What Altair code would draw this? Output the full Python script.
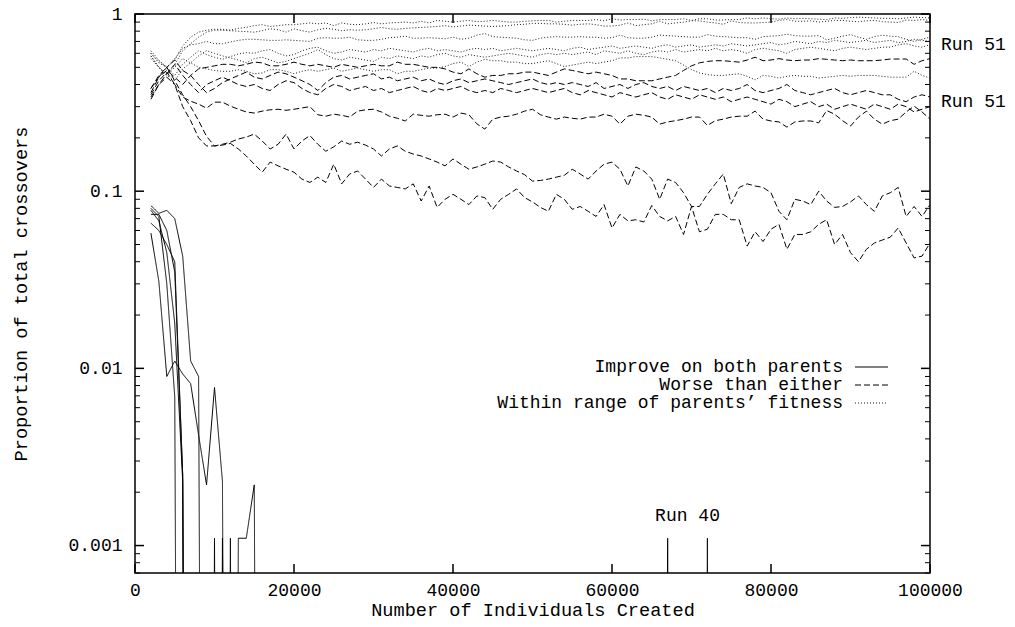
import altair as alt
import pandas as pd

# ---------------- data (sampled every 1000 individuals, 2000 .. 100000) ----------------
individuals = list(range(2000, 100001, 1000))

# "Improve on both parents" (solid)
improve_run1 = [0.083, 0.075, 0.078, 0.070, 0.043, 0.011, 0.009] + [0] * 92
improve_run2 = [0.058, 0.031, 0.009, 0.011, 0.0093, 0.0082, 0.0042, 0.0022, 0.0078, 0.0023] + [0] * 89
improve_run3 = [0.080, 0.072, 0.030, 0.0069, 0, 0, 0, 0, 0.0011] + [0] * 90
improve_run4 = [0.078, 0.068, 0.045, 0.018, 0.0023, 0, 0, 0, 0, 0.0011] + [0] * 89
improve_run5 = ([0.074, 0.074, 0.060, 0.035, 0.0025, 0, 0, 0, 0, 0, 0.0011] + [0] * 54
                + [0.0011] + [0] * 4 + [0.0011] + [0] * 28)
improve_run6 = [0.066, 0.060, 0.050, 0.040, 0.0025, 0, 0, 0, 0, 0, 0, 0.0011, 0.0011, 0.0022] + [0] * 85

# "Worse than either" (dashed)
worse_run1 = [0.35, 0.42, 0.47, 0.40, 0.30, 0.25, 0.20, 0.18, 0.18,
              0.182, 0.186, 0.173, 0.158, 0.142, 0.128, 0.146, 0.139, 0.133, 0.128,
              0.117, 0.112, 0.120, 0.112, 0.142, 0.110, 0.125, 0.130, 0.117, 0.105,
              0.117, 0.107, 0.105, 0.103, 0.110, 0.088, 0.107, 0.081, 0.090, 0.096,
              0.090, 0.084, 0.094, 0.092, 0.079, 0.090, 0.096, 0.103, 0.092, 0.087,
              0.081, 0.077, 0.096, 0.090, 0.079, 0.082, 0.077, 0.072, 0.084, 0.062,
              0.074, 0.068, 0.069, 0.067, 0.083, 0.072, 0.068, 0.072, 0.057, 0.082,
              0.059, 0.061, 0.074, 0.074, 0.069, 0.069, 0.049, 0.059, 0.052, 0.061,
              0.065, 0.047, 0.057, 0.057, 0.059, 0.065, 0.069, 0.050, 0.057, 0.045,
              0.040, 0.047, 0.051, 0.053, 0.055, 0.062, 0.051, 0.042, 0.043, 0.051]
worse_run2 = [0.38, 0.45, 0.50, 0.42, 0.35, 0.30, 0.25, 0.204, 0.180,
              0.184, 0.189, 0.197, 0.202, 0.210, 0.192, 0.173, 0.184, 0.210, 0.173,
              0.192, 0.206, 0.184, 0.168, 0.178, 0.192, 0.184, 0.189, 0.182, 0.173,
              0.158, 0.173, 0.180, 0.168, 0.162, 0.158, 0.152, 0.146, 0.139, 0.152,
              0.142, 0.133, 0.137, 0.142, 0.148, 0.146, 0.137, 0.130, 0.124, 0.114,
              0.115, 0.117, 0.120, 0.123, 0.133, 0.125, 0.117, 0.130, 0.142, 0.146,
              0.133, 0.107, 0.137, 0.130, 0.117, 0.090, 0.117, 0.112, 0.098, 0.082,
              0.082, 0.096, 0.110, 0.125, 0.085, 0.105, 0.110, 0.107, 0.105, 0.098,
              0.077, 0.069, 0.090, 0.088, 0.084, 0.100, 0.088, 0.081, 0.082, 0.087,
              0.094, 0.084, 0.077, 0.094, 0.098, 0.105, 0.072, 0.082, 0.072, 0.084]
worse_run3 = [0.33, 0.40, 0.44, 0.40, 0.34, 0.322, 0.310, 0.294, 0.318,
              0.318, 0.302, 0.290, 0.280, 0.276, 0.283, 0.288, 0.290, 0.286, 0.290,
              0.295, 0.300, 0.270, 0.265, 0.272, 0.268, 0.262, 0.283, 0.288, 0.290,
              0.280, 0.265, 0.258, 0.249, 0.272, 0.268, 0.265, 0.270, 0.272, 0.262,
              0.276, 0.270, 0.240, 0.224, 0.255, 0.262, 0.265, 0.272, 0.283, 0.290,
              0.270, 0.262, 0.255, 0.262, 0.258, 0.255, 0.262, 0.262, 0.272, 0.265,
              0.239, 0.265, 0.272, 0.268, 0.262, 0.239, 0.246, 0.250, 0.255, 0.262,
              0.262, 0.235, 0.250, 0.255, 0.262, 0.265, 0.265, 0.283, 0.255, 0.249,
              0.246, 0.230, 0.246, 0.249, 0.249, 0.243, 0.285, 0.272, 0.250, 0.233,
              0.262, 0.283, 0.255, 0.239, 0.250, 0.255, 0.280, 0.302, 0.280, 0.255]
worse_run4 = [0.34, 0.40, 0.46, 0.52, 0.45, 0.40, 0.36, 0.40, 0.42,
              0.44, 0.42, 0.40, 0.39, 0.40, 0.38, 0.37, 0.40, 0.42, 0.41,
              0.38, 0.36, 0.35, 0.38, 0.40, 0.39, 0.37, 0.38, 0.39, 0.37,
              0.38, 0.36, 0.37, 0.38, 0.39, 0.37, 0.36, 0.38, 0.37, 0.38,
              0.39, 0.37, 0.36, 0.37, 0.36, 0.38, 0.37, 0.36, 0.37, 0.38,
              0.37, 0.36, 0.37, 0.38, 0.36, 0.35, 0.37, 0.36, 0.35, 0.34,
              0.36, 0.35, 0.34, 0.35, 0.36, 0.34, 0.33, 0.35, 0.34, 0.33,
              0.35, 0.34, 0.33, 0.34, 0.32, 0.33, 0.34, 0.33, 0.32, 0.31,
              0.33, 0.32, 0.30, 0.31, 0.32, 0.30, 0.31, 0.29, 0.30, 0.31,
              0.30, 0.29, 0.31, 0.30, 0.29, 0.31, 0.30, 0.28, 0.29, 0.30]
worse_run5 = [0.36, 0.44, 0.50, 0.55, 0.48, 0.45, 0.40, 0.36, 0.38,
              0.41, 0.43, 0.45, 0.47, 0.44, 0.43, 0.45, 0.47, 0.46, 0.44,
              0.42, 0.40, 0.37, 0.41, 0.44, 0.45, 0.43, 0.44, 0.45, 0.46,
              0.43, 0.44, 0.42, 0.43, 0.44, 0.42, 0.43, 0.41, 0.40, 0.42,
              0.43, 0.41, 0.42, 0.43, 0.42, 0.41, 0.40, 0.41, 0.42, 0.43,
              0.41, 0.40, 0.41, 0.40, 0.41, 0.40, 0.39, 0.41, 0.38, 0.39,
              0.40, 0.38, 0.40, 0.41, 0.39, 0.38, 0.39, 0.37, 0.39, 0.38,
              0.37, 0.38, 0.36, 0.38, 0.37, 0.38, 0.40, 0.37, 0.36, 0.37,
              0.38, 0.40, 0.37, 0.36, 0.35, 0.36, 0.37, 0.38, 0.36, 0.35,
              0.36, 0.37, 0.36, 0.35, 0.35, 0.33, 0.32, 0.34, 0.35, 0.34]
worse_run6 = [0.38, 0.44, 0.48, 0.44, 0.40, 0.45, 0.49, 0.50, 0.51,
              0.52, 0.52, 0.51, 0.52, 0.535, 0.53, 0.51, 0.51, 0.52, 0.535,
              0.52, 0.51, 0.52, 0.51, 0.50, 0.52, 0.51, 0.50, 0.51, 0.52,
              0.51, 0.51, 0.535, 0.52, 0.52, 0.51, 0.50, 0.50, 0.49, 0.47,
              0.46, 0.49, 0.46, 0.44, 0.45, 0.45, 0.46, 0.46, 0.47, 0.47,
              0.46, 0.45, 0.47, 0.49, 0.48, 0.47, 0.46, 0.47, 0.46, 0.45,
              0.43, 0.43, 0.42, 0.42, 0.42, 0.43, 0.44, 0.45, 0.48, 0.51,
              0.53, 0.54, 0.545, 0.545, 0.54, 0.535, 0.55, 0.57, 0.545, 0.55,
              0.56, 0.55, 0.545, 0.55, 0.55, 0.56, 0.555, 0.55, 0.545, 0.55,
              0.545, 0.545, 0.545, 0.55, 0.557, 0.557, 0.557, 0.52, 0.545, 0.56]

# "Within range of parents' fitness" (dotted)
within_run1 = [0.62, 0.55, 0.50, 0.55, 0.66, 0.74, 0.79, 0.81, 0.82,
               0.82, 0.81, 0.83, 0.84, 0.86, 0.87, 0.85, 0.86, 0.87, 0.87,
               0.88, 0.89, 0.88, 0.89, 0.86, 0.89, 0.875, 0.87, 0.88, 0.895,
               0.88, 0.89, 0.895, 0.90, 0.89, 0.91, 0.89, 0.92, 0.91, 0.90,
               0.91, 0.92, 0.905, 0.91, 0.92, 0.91, 0.90, 0.90, 0.91, 0.915,
               0.92, 0.92, 0.90, 0.91, 0.92, 0.92, 0.92, 0.93, 0.915, 0.94,
               0.925, 0.93, 0.93, 0.935, 0.915, 0.93, 0.93, 0.93, 0.94, 0.92,
               0.94, 0.94, 0.925, 0.925, 0.93, 0.93, 0.95, 0.94, 0.95, 0.94,
               0.935, 0.95, 0.94, 0.945, 0.94, 0.935, 0.93, 0.95, 0.945, 0.955,
               0.96, 0.955, 0.95, 0.945, 0.945, 0.94, 0.95, 0.96, 0.955, 0.95]
within_run2 = [0.58, 0.50, 0.45, 0.52, 0.62, 0.68, 0.74, 0.79, 0.81,
               0.81, 0.805, 0.80, 0.795, 0.79, 0.805, 0.825, 0.815, 0.79, 0.825,
               0.805, 0.79, 0.815, 0.83, 0.82, 0.805, 0.815, 0.81, 0.815, 0.825,
               0.84, 0.825, 0.82, 0.83, 0.835, 0.84, 0.845, 0.85, 0.86, 0.845,
               0.855, 0.865, 0.86, 0.855, 0.85, 0.855, 0.86, 0.87, 0.875, 0.885,
               0.885, 0.88, 0.88, 0.875, 0.865, 0.875, 0.88, 0.87, 0.855, 0.855,
               0.865, 0.89, 0.86, 0.87, 0.88, 0.91, 0.88, 0.89, 0.90, 0.915,
               0.915, 0.90, 0.89, 0.875, 0.915, 0.895, 0.89, 0.89, 0.895, 0.90,
               0.92, 0.93, 0.91, 0.91, 0.915, 0.90, 0.91, 0.92, 0.92, 0.91,
               0.905, 0.915, 0.92, 0.905, 0.90, 0.895, 0.925, 0.92, 0.93, 0.92]
within_run3 = [0.60, 0.53, 0.50, 0.56, 0.64, 0.67, 0.68, 0.70, 0.68,
               0.68, 0.695, 0.71, 0.72, 0.72, 0.715, 0.71, 0.71, 0.715, 0.71,
               0.705, 0.70, 0.73, 0.735, 0.73, 0.73, 0.74, 0.715, 0.71, 0.71,
               0.72, 0.735, 0.74, 0.75, 0.73, 0.73, 0.735, 0.73, 0.725, 0.74,
               0.72, 0.73, 0.76, 0.775, 0.745, 0.74, 0.735, 0.73, 0.715, 0.71,
               0.73, 0.74, 0.745, 0.74, 0.74, 0.745, 0.74, 0.74, 0.73, 0.735,
               0.76, 0.735, 0.73, 0.73, 0.74, 0.76, 0.755, 0.75, 0.745, 0.74,
               0.74, 0.765, 0.75, 0.745, 0.74, 0.735, 0.735, 0.72, 0.745, 0.75,
               0.755, 0.77, 0.755, 0.75, 0.75, 0.755, 0.715, 0.73, 0.75, 0.765,
               0.74, 0.72, 0.745, 0.76, 0.75, 0.745, 0.72, 0.70, 0.72, 0.74]
within_run4 = [0.60, 0.54, 0.50, 0.45, 0.52, 0.57, 0.62, 0.59, 0.57,
               0.555, 0.575, 0.595, 0.605, 0.60, 0.62, 0.63, 0.60, 0.58, 0.59,
               0.62, 0.64, 0.65, 0.62, 0.60, 0.61, 0.63, 0.62, 0.61, 0.63,
               0.62, 0.64, 0.63, 0.62, 0.61, 0.63, 0.64, 0.62, 0.63, 0.62,
               0.61, 0.63, 0.64, 0.63, 0.64, 0.62, 0.63, 0.64, 0.63, 0.62,
               0.63, 0.64, 0.63, 0.62, 0.64, 0.65, 0.63, 0.64, 0.65, 0.66,
               0.64, 0.65, 0.66, 0.65, 0.64, 0.66, 0.67, 0.65, 0.66, 0.67,
               0.65, 0.66, 0.67, 0.66, 0.68, 0.67, 0.66, 0.67, 0.68, 0.69,
               0.67, 0.68, 0.70, 0.69, 0.68, 0.70, 0.69, 0.71, 0.70, 0.69,
               0.70, 0.71, 0.69, 0.70, 0.71, 0.69, 0.70, 0.72, 0.71, 0.70]
within_run5 = [0.58, 0.50, 0.45, 0.42, 0.49, 0.53, 0.58, 0.62, 0.60,
               0.58, 0.565, 0.55, 0.53, 0.56, 0.57, 0.55, 0.53, 0.54, 0.56,
               0.58, 0.60, 0.63, 0.59, 0.56, 0.55, 0.57, 0.56, 0.55, 0.54,
               0.57, 0.56, 0.58, 0.57, 0.56, 0.58, 0.57, 0.59, 0.60, 0.58,
               0.57, 0.59, 0.58, 0.57, 0.58, 0.59, 0.60, 0.59, 0.58, 0.57,
               0.59, 0.60, 0.59, 0.60, 0.59, 0.60, 0.61, 0.59, 0.62, 0.61,
               0.60, 0.62, 0.60, 0.59, 0.61, 0.62, 0.61, 0.63, 0.61, 0.62,
               0.63, 0.62, 0.64, 0.62, 0.63, 0.62, 0.60, 0.63, 0.64, 0.63,
               0.62, 0.60, 0.63, 0.64, 0.65, 0.64, 0.63, 0.62, 0.64, 0.65,
               0.64, 0.63, 0.64, 0.65, 0.65, 0.67, 0.68, 0.66, 0.65, 0.67]
within_run6 = [0.56, 0.50, 0.46, 0.50, 0.56, 0.53, 0.50, 0.49, 0.48,
               0.475, 0.475, 0.485, 0.475, 0.46, 0.465, 0.485, 0.485, 0.475, 0.46,
               0.475, 0.485, 0.475, 0.485, 0.495, 0.475, 0.485, 0.495, 0.485, 0.475,
               0.485, 0.485, 0.46, 0.475, 0.475, 0.485, 0.495, 0.495, 0.505, 0.525,
               0.535, 0.505, 0.535, 0.555, 0.545, 0.545, 0.535, 0.535, 0.525, 0.525,
               0.535, 0.545, 0.525, 0.505, 0.515, 0.525, 0.535, 0.525, 0.535, 0.545,
               0.565, 0.565, 0.575, 0.575, 0.575, 0.565, 0.555, 0.545, 0.515, 0.485,
               0.465, 0.455, 0.45, 0.45, 0.455, 0.46, 0.445, 0.425, 0.45, 0.445,
               0.435, 0.445, 0.45, 0.445, 0.445, 0.435, 0.44, 0.445, 0.45, 0.445,
               0.45, 0.45, 0.45, 0.445, 0.44, 0.44, 0.44, 0.475, 0.45, 0.435]

kinds = ["Improve on both parents", "Worse than either", "Within range of parents\u2019 fitness"]
x_ticks = [0, 20000, 40000, 60000, 80000, 100000]
y_ticks = [0.001, 0.01, 0.1, 1]
run_labels = ["Run 51", "Run 51", "Run 40"]

# ---------------- build long table ----------------
runs = [
    (improve_run1, worse_run1, within_run1),
    (improve_run2, worse_run2, within_run2),
    (improve_run3, worse_run3, within_run3),
    (improve_run4, worse_run4, within_run4),
    (improve_run5, worse_run5, within_run5),
    (improve_run6, worse_run6, within_run6),
]
FLOOR = 1e-12  # zero proportions fall off the bottom of the log axis
rows = []
for i, trio in enumerate(runs, 1):
    for kind, vals in zip(kinds, trio):
        assert len(vals) == len(individuals), (i, kind, len(vals))
        for x, v in zip(individuals, vals):
            rows.append({"x": x, "v": v if v > 0 else FLOOR, "kind": kind,
                         "series": f"run{i}-{kinds.index(kind)}"})
df = pd.DataFrame(rows)

W, H = 795, 559
FONT = "Liberation Mono"
FS = 18
FS_BIG = 18.6
DOT_COLOR = "#1a1a1a"

xscale = alt.Scale(domain=[0, 100000], nice=False, zero=False)
yscale = alt.Scale(type="log", domain=[0.0007, 1], nice=False)
xaxis = alt.Axis(values=x_ticks, format="d", ticks=False, tickSize=0, domain=False, grid=False,
                 labelPadding=8, labelFlush=False, title="Number of Individuals Created",
                 titleX=W / 2, titleY=36, titleBaseline="middle", titleAlign="center",
                 titleFontSize=FS_BIG)
yaxis = alt.Axis(values=y_ticks, format="~g", ticks=False, tickSize=0, domain=False, grid=False,
                 labelPadding=13, labelFlush=False, title="Proportion of total crossovers",
                 titleX=-115, titleY=H / 2, titleAngle=270, titleAlign="center",
                 titleBaseline="middle", titleFontSize=FS_BIG)
X = alt.X("x:Q", scale=xscale, axis=xaxis)
Y = alt.Y("v:Q", scale=yscale, axis=yaxis)

lines = alt.Chart(df).mark_line(clip=True, strokeWidth=1).encode(
    x=X, y=Y, detail="series:N",
    strokeDash=alt.StrokeDash("kind:N", scale=alt.Scale(domain=kinds, range=[[1, 0], [6, 3], [1, 2]]),
                              legend=None),
    color=alt.Color("kind:N", scale=alt.Scale(domain=kinds, range=["#000000", "#000000", DOT_COLOR]),
                    legend=None),
)

# tick marks drawn inward, gnuplot style
y_minor = [m * 10.0 ** e for e in (-4, -3, -2, -1) for m in range(2, 10) if 0.0007 <= m * 10.0 ** e < 1]
ymaj = pd.DataFrame({"v": y_ticks})
ymin = pd.DataFrame({"v": y_minor})
xmaj = pd.DataFrame({"x": x_ticks})
tick_layers = [
    alt.Chart(ymaj).mark_rule(color="black", strokeWidth=1.5).encode(y=Y, x=alt.value(0), x2=alt.value(9)),
    alt.Chart(ymaj).mark_rule(color="black", strokeWidth=1.5).encode(y=Y, x=alt.value(W), x2=alt.value(W - 9)),
    alt.Chart(ymin).mark_rule(color="black", strokeWidth=1).encode(y=Y, x=alt.value(0), x2=alt.value(5)),
    alt.Chart(ymin).mark_rule(color="black", strokeWidth=1).encode(y=Y, x=alt.value(W), x2=alt.value(W - 5)),
    alt.Chart(xmaj).mark_rule(color="black", strokeWidth=1.5).encode(x=X, y=alt.value(H), y2=alt.value(H - 9)),
    alt.Chart(xmaj).mark_rule(color="black", strokeWidth=1.5).encode(x=X, y=alt.value(0), y2=alt.value(9)),
]

# annotations
ann_side = pd.DataFrame({"x": [100000, 100000], "v": [0.668, 0.318], "label": run_labels[:2]})
ann_run40 = pd.DataFrame({"x": [69500], "v": [0.00146], "label": run_labels[2:]})
side_text = alt.Chart(ann_side).mark_text(align="left", baseline="middle", dx=11).encode(
    x=X, y=Y, text="label:N")
run40_text = alt.Chart(ann_run40).mark_text(align="center", baseline="middle").encode(
    x=X, y=Y, text="label:N")

# in-plot key (right-aligned text followed by a line sample)
one = pd.DataFrame({"k": [0]})
key_layers = []
key_rows = [(353, [1, 0], "#000000"), (371, [6, 3], "#000000"), (389, [1, 2], DOT_COLOR)]
for label, (ky, dash, col) in zip(kinds, key_rows):
    key_layers.append(alt.Chart(one).mark_text(align="right", baseline="middle", fontSize=FS).encode(
        x=alt.value(708), y=alt.value(ky), text=alt.value(label)))
    key_layers.append(alt.Chart(one).mark_rule(strokeWidth=1, strokeDash=dash, color=col).encode(
        x=alt.value(720), x2=alt.value(753), y=alt.value(ky)))

chart = alt.layer(lines, *tick_layers, side_text, run40_text, *key_layers).properties(
    width=W, height=H,
    autosize=alt.AutoSizeParams(type="none"),
    padding={"left": 135, "top": 14, "right": 85, "bottom": 54},
    background="white",
).configure_view(stroke="black", strokeWidth=1.5).configure_axis(
    labelFont=FONT, titleFont=FONT, labelFontSize=FS, titleFontSize=FS_BIG,
    labelColor="black", titleColor="black", titleFontWeight="normal",
).configure_text(font=FONT, fontSize=FS, color="black")

chart.save("out.html", embed_options={"renderer": "svg", "actions": False})
